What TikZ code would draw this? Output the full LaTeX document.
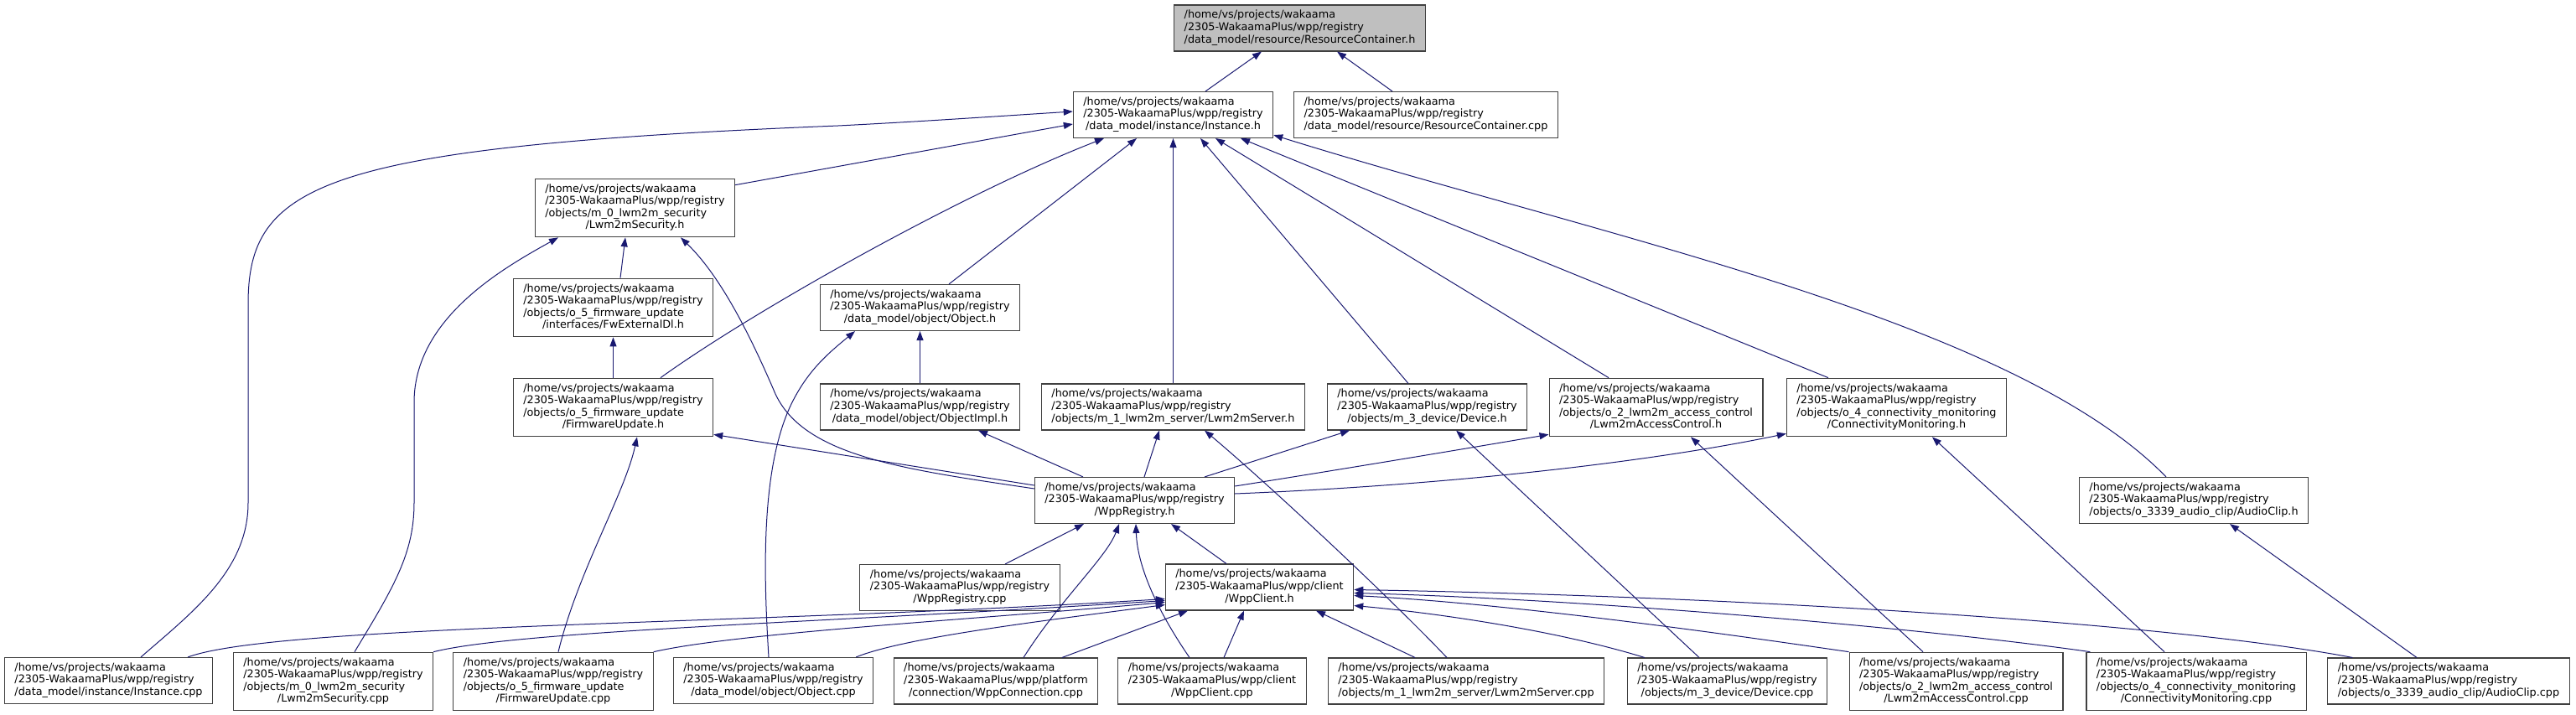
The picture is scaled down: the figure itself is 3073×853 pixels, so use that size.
\documentclass[tikz,border=0pt]{standalone}
\usepackage{fontspec}
\setmainfont{DejaVu Sans}
\usetikzlibrary{arrows.meta}
\definecolor{edgeblue}{RGB}{25,25,112}
\definecolor{boxline}{RGB}{64,64,64}
\definecolor{rootfill}{RGB}{191,191,191}
\newcommand{\wk}{/home/vs/projects/wakaama}
\newcommand{\wreg}{/2305-WakaamaPlus/wpp/registry}
\newcommand{\fp}[2]{\begin{tabular}{@{}l@{}}#1\\\multicolumn{1}{@{}c@{}}{#2}\end{tabular}}

\begin{document}
\begin{tikzpicture}[x=1pt,y=-1pt,
  file/.style={draw=boxline,line width=1.1pt,fill=white,inner xsep=12pt,inner ysep=5.6pt,
    font=\fontsize{12.8}{14.6}\selectfont},
  root/.style={file,fill=rootfill},
  inc/.style={edgeblue,line width=1pt,-{Triangle[length=11pt,width=8pt]}}]
  \useasboundingbox (0,0) rectangle (3073,853);
  \node[root] (RCh) at (1550.5,33.5) {\fp{\wk\\\wreg}{/data\_model/resource/ResourceContainer.h}};
  \node[file] (Insth) at (1399.5,137) {\fp{\wk\\\wreg}{/data\_model/instance/Instance.h}};
  \node[file] (RCcpp) at (1701,137) {\fp{\wk\\\wreg}{/data\_model/resource/ResourceContainer.cpp}};
  \node[file] (Sech) at (757.5,248) {\fp{\wk\\\wreg\\/objects/m\_0\_lwm2m\_security}{/Lwm2mSecurity.h}};
  \node[file] (FwDl) at (731.5,367) {\fp{\wk\\\wreg\\/objects/o\_5\_firmware\_update}{/interfaces/FwExternalDl.h}};
  \node[file] (FwUph) at (731.5,486) {\fp{\wk\\\wreg\\/objects/o\_5\_firmware\_update}{/FirmwareUpdate.h}};
  \node[file] (Objh) at (1097.5,367) {\fp{\wk\\\wreg}{/data\_model/object/Object.h}};
  \node[file] (ObjImplh) at (1097.5,485.5) {\fp{\wk\\\wreg}{/data\_model/object/ObjectImpl.h}};
  \node[file] (Srvh) at (1399.5,485.5) {\fp{\wk\\\wreg}{/objects/m\_1\_lwm2m\_server/Lwm2mServer.h}};
  \node[file] (Devh) at (1702.5,485.5) {\fp{\wk\\\wreg}{/objects/m\_3\_device/Device.h}};
  \node[file] (ACh) at (1975.5,486) {\fp{\wk\\\wreg\\/objects/o\_2\_lwm2m\_access\_control}{/Lwm2mAccessControl.h}};
  \node[file] (CMh) at (2262.5,486) {\fp{\wk\\\wreg\\/objects/o\_4\_connectivity\_monitoring}{/ConnectivityMonitoring.h}};
  \node[file] (AClh) at (2617,597) {\fp{\wk\\\wreg}{/objects/o\_3339\_audio\_clip/AudioClip.h}};
  \node[file] (WRegh) at (1353.5,597) {\fp{\wk\\\wreg}{/WppRegistry.h}};
  \node[file] (WRegcpp) at (1145,701) {\fp{\wk\\\wreg}{/WppRegistry.cpp}};
  \node[file] (WClh) at (1502.5,700.5) {\fp{\wk\\/2305-WakaamaPlus/wpp/client}{/WppClient.h}};
  \node[file] (Instcpp) at (129.5,812) {\fp{\wk\\\wreg}{/data\_model/instance/Instance.cpp}};
  \node[file] (Seccpp) at (397.5,813) {\fp{\wk\\\wreg\\/objects/m\_0\_lwm2m\_security}{/Lwm2mSecurity.cpp}};
  \node[file] (FwUpcpp) at (660,813) {\fp{\wk\\\wreg\\/objects/o\_5\_firmware\_update}{/FirmwareUpdate.cpp}};
  \node[file] (Objcpp) at (922.5,812) {\fp{\wk\\\wreg}{/data\_model/object/Object.cpp}};
  \node[file] (Conncpp) at (1188,812.5) {\fp{\wk\\/2305-WakaamaPlus/wpp/platform}{/connection/WppConnection.cpp}};
  \node[file] (WClcpp) at (1446,812.5) {\fp{\wk\\/2305-WakaamaPlus/wpp/client}{/WppClient.cpp}};
  \node[file] (Srvcpp) at (1749,812.5) {\fp{\wk\\\wreg}{/objects/m\_1\_lwm2m\_server/Lwm2mServer.cpp}};
  \node[file] (Devcpp) at (2060.5,812.5) {\fp{\wk\\\wreg}{/objects/m\_3\_device/Device.cpp}};
  \node[file] (ACcpp) at (2333.5,813) {\fp{\wk\\\wreg\\/objects/o\_2\_lwm2m\_access\_control}{/Lwm2mAccessControl.cpp}};
  \node[file] (CMcpp) at (2620,813) {\fp{\wk\\\wreg\\/objects/o\_4\_connectivity\_monitoring}{/ConnectivityMonitoring.cpp}};
  \node[file] (AClcpp) at (2921,812.5) {\fp{\wk\\\wreg}{/objects/o\_3339\_audio\_clip/AudioClip.cpp}};

  \draw[inc] ([xshift=38.5pt]Insth.north) -- ([xshift=-45.5pt]RCh.south);
  \draw[inc] ([xshift=-40pt]RCcpp.north) -- ([xshift=44.5pt]RCh.south);

  \draw[inc] ([xshift=38.5pt]Instcpp.north) .. controls (230,730) and (296,680) .. (296,600)
    -- (296,363) .. controls (296,220) and (380,175) .. (1000,150)
    .. controls (1100,145) and (1200,138) .. ([yshift=4pt]Insth.west);
  \draw[inc] ([yshift=-8pt]Sech.north east) -- ([yshift=-11pt]Insth.west);
  \draw[inc] ([xshift=56.5pt]FwUph.north) .. controls (900,370) and (1150,230) .. ([xshift=-82.5pt]Insth.south);
  \draw[inc] ([xshift=34.5pt]Objh.north) -- ([xshift=-43.5pt]Insth.south);
  \draw[inc] (Srvh.north) -- (Insth.south);
  \draw[inc] ([xshift=-22.5pt]Devh.north) -- ([xshift=32.5pt]Insth.south);
  \draw[inc] ([xshift=-56.5pt]ACh.north) -- ([xshift=50.5pt]Insth.south);
  \draw[inc] ([xshift=-81.5pt]CMh.north) -- ([xshift=80.5pt]Insth.south);
  \draw[inc] ([xshift=-33pt]AClh.north) .. controls (2400,380) and (1900,280) .. ([yshift=4pt]Insth.south east);

  \draw[inc] ([xshift=8.5pt]FwDl.north) -- ([xshift=-11.5pt]Sech.south);
  \draw[inc] (FwUph.north) -- (FwDl.south);
  \draw[inc] ([xshift=25.5pt]Seccpp.north) .. controls (470,700) and (494,660) .. (494,600)
    -- (494,480) .. controls (494,380) and (600,320) .. ([xshift=-91.5pt]Sech.south);
  \draw[inc] ([yshift=14pt]WRegh.west) .. controls (1080,560) and (960,545) .. (925,470)
    .. controls (895,400) and (860,330) .. ([xshift=54.5pt]Sech.south);
  \draw[inc] ([xshift=6pt]FwUpcpp.north) .. controls (690,680) and (745,590) .. ([xshift=28.5pt]FwUph.south);
  \draw[inc] ([yshift=18pt]WRegh.west) -- ([yshift=3pt]FwUph.south east);

  \draw[inc] (ObjImplh.north) -- (Objh.south);
  \draw[inc] ([xshift=-5.5pt]Objcpp.north) .. controls (912,700) and (905,560) .. (945,480)
    .. controls (965,440) and (990,420) .. ([xshift=-77.5pt]Objh.south);
  \draw[inc] ([xshift=-61.5pt]WRegh.north) -- ([xshift=69.5pt]ObjImplh.south);
  \draw[inc] ([xshift=11.5pt]WRegh.north) -- ([xshift=-16.5pt]Srvh.south);
  \draw[inc] ([xshift=-23pt]Srvcpp.north) .. controls (1650,705) and (1510,575) .. ([xshift=37.5pt]Srvh.south);
  \draw[inc] ([xshift=83.5pt]WRegh.north) -- ([xshift=-92.5pt]Devh.south);
  \draw[inc] ([xshift=-33.5pt]Devcpp.north) -- ([xshift=34.5pt]Devh.south);
  \draw[inc] ([yshift=17pt]WRegh.east) .. controls (1600,560) and (1750,535) .. ([yshift=3pt]ACh.south west);
  \draw[inc] ([xshift=-39.5pt]ACcpp.north) -- ([xshift=41.5pt]ACh.south);
  \draw[inc] ([yshift=8pt]WRegh.east) .. controls (1700,580) and (1950,555) .. ([yshift=4pt]CMh.south west);
  \draw[inc] ([xshift=-38pt]CMcpp.north) -- ([xshift=42.5pt]CMh.south);
  \draw[inc] ([xshift=-38pt]AClcpp.north) -- ([xshift=43pt]AClh.south);

  \draw[inc] ([xshift=54pt]WRegcpp.north) -- ([xshift=-60.5pt]WRegh.south);
  \draw[inc] ([xshift=-39.5pt]WClh.north) -- ([xshift=43.5pt]WRegh.south);
  \draw[inc] ([xshift=33pt]Conncpp.north) .. controls (1265,715) and (1320,665) .. ([xshift=-18.5pt]WRegh.south);
  \draw[inc] ([xshift=-27pt]WClcpp.north) .. controls (1385,735) and (1357,680) .. ([xshift=1.5pt]WRegh.south);

  \draw[inc] ([xshift=-30pt]Instcpp.north east) .. controls (330,745) and (900,745) .. ([yshift=-14pt]WClh.west);
  \draw[inc] (Seccpp.north east) .. controls (620,752) and (1000,742) .. ([yshift=-16pt]WClh.west);
  \draw[inc] (FwUpcpp.north east) .. controls (880,755) and (1150,740) .. ([yshift=-18pt]WClh.west);
  \draw[inc] ([xshift=-21pt]Objcpp.north east) .. controls (1080,760) and (1250,740) .. ([yshift=-21pt]WClh.west);
  \draw[inc] ([xshift=79pt]Conncpp.north) -- ([xshift=-85.5pt]WClh.south);
  \draw[inc] ([xshift=14pt]WClcpp.north) -- ([xshift=-18.5pt]WClh.south);
  \draw[inc] ([xshift=-61pt]Srvcpp.north) -- ([xshift=67.5pt]WClh.south);
  \draw[inc] ([xshift=21pt]Devcpp.north west) .. controls (1850,750) and (1700,730) .. ([yshift=-22pt]WClh.east);
  \draw[inc] (ACcpp.north west) .. controls (2050,755) and (1800,720) .. ([yshift=-10pt]WClh.east);
  \draw[inc] ([xshift=5pt]CMcpp.north west) .. controls (2300,750) and (1900,715) .. ([yshift=-7pt]WClh.east);
  \draw[inc] ([xshift=30pt]AClcpp.north west) .. controls (2600,745) and (2100,712) .. ([yshift=-3pt]WClh.east);
\end{tikzpicture}
\end{document}
